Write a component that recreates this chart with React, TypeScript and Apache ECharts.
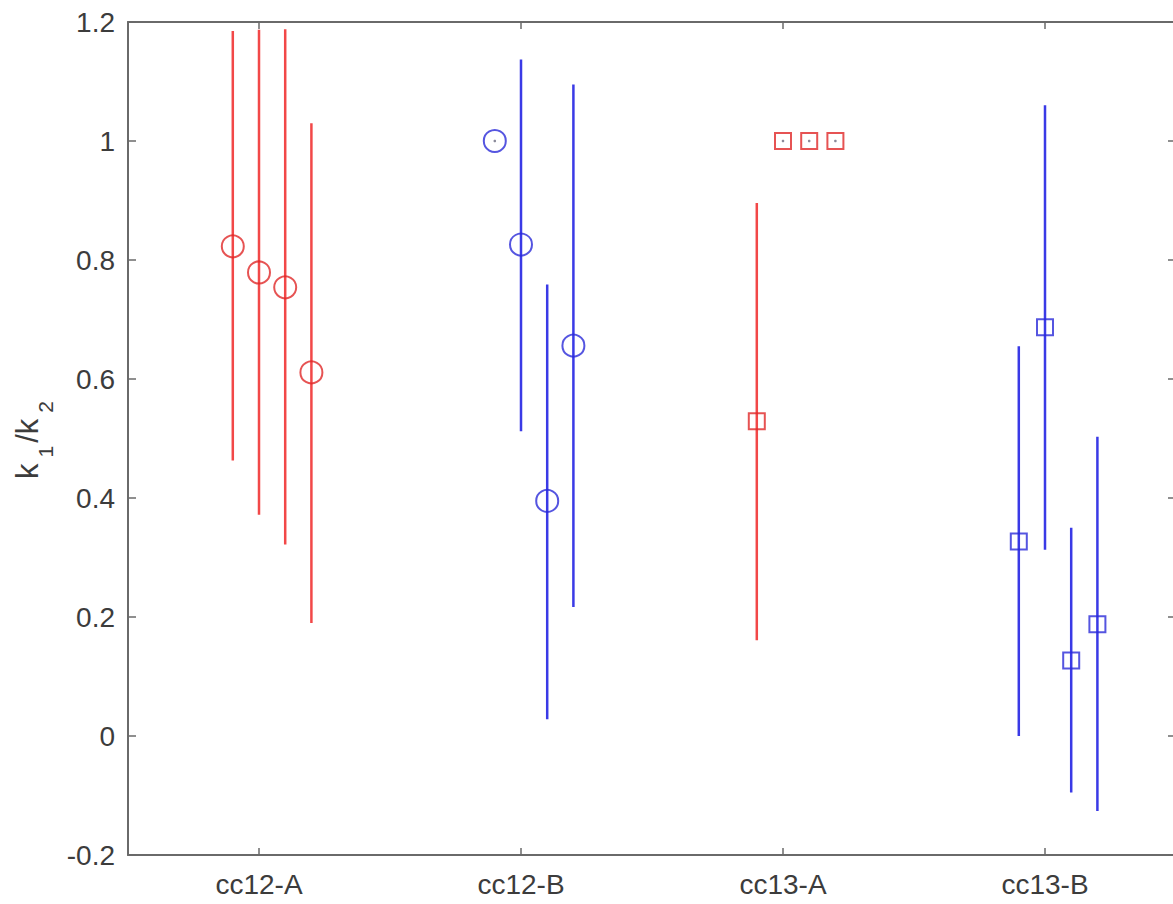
import React, { useEffect, useRef } from "react";
import * as echarts from "echarts";

const categories = ["cc12-A", "cc12-B", "cc13-A", "cc13-B"];
const categoryTicks = [1, 2, 3, 4];
const yTicks = [-0.2, 0, 0.2, 0.4, 0.6, 0.8, 1, 1.2];

// cc12-A (red circles)
const x12A = [0.9, 1.0, 1.1, 1.2];
const y12A = [0.823, 0.779, 0.754, 0.611];
const lo12A = [0.463, 0.372, 0.322, 0.19];
const hi12A = [1.185, 1.187, 1.188, 1.03];

// cc12-B (blue circles)
const x12B = [1.9, 2.0, 2.1, 2.2];
const y12B = [1.0, 0.826, 0.395, 0.656];
const lo12B = [1.0, 0.512, 0.028, 0.217];
const hi12B = [1.0, 1.137, 0.759, 1.095];

// cc13-A (red squares)
const x13A = [2.9, 3.0, 3.1, 3.2];
const y13A = [0.529, 1.0, 1.0, 1.0];
const lo13A = [0.161, 1.0, 1.0, 1.0];
const hi13A = [0.896, 1.0, 1.0, 1.0];

// cc13-B (blue squares)
const x13B = [3.9, 4.0, 4.1, 4.2];
const y13B = [0.327, 0.687, 0.127, 0.188];
const lo13B = [0.0, 0.313, -0.095, -0.126];
const hi13B = [0.655, 1.06, 0.35, 0.503];

const RED_LINE = "#f24848";
const RED_MARK = "#e02828";
const BLUE_LINE = "#3a3ae6";
const BLUE_MARK = "#2a2ad8";
const AXIS = "#6a6a6a";
const TEXT = "#3c3c3c";
const FONT = "Liberation Sans";

function errorSeries(xs: number[], lo: number[], hi: number[], color: string) {
  return {
    type: "custom",
    xAxisIndex: 0,
    yAxisIndex: 0,
    silent: true,
    data: xs.map((x, i) => [x, lo[i], hi[i]]),
    encode: { x: 0, y: [1, 2] },
    renderItem: (params: any, api: any) => {
      const x = api.value(0);
      const p1 = api.coord([x, api.value(1)]);
      const p2 = api.coord([x, api.value(2)]);
      if (Math.abs(p1[1] - p2[1]) < 0.5) {
        return {
          type: "circle",
          shape: { cx: p1[0], cy: p1[1], r: 1.3 },
          style: { fill: "#8a8a9a" },
        };
      }
      return {
        type: "line",
        shape: { x1: p1[0], y1: p1[1], x2: p2[0], y2: p2[1] },
        style: { stroke: color, lineWidth: 2.5 },
      };
    },
    z: 2,
  };
}

function markerSeries(xs: number[], ys: number[], symbol: string, size: number, color: string) {
  return {
    type: "scatter",
    xAxisIndex: 0,
    yAxisIndex: 0,
    silent: true,
    symbol,
    symbolSize: size,
    data: xs.map((x, i) => [x, ys[i]]),
    itemStyle: { color: "rgba(0,0,0,0)", borderColor: color, borderWidth: 2 },
    z: 3,
  };
}

export default function App() {
  const ref = useRef<HTMLDivElement>(null);
  useEffect(() => {
    if (!ref.current) return;
    const chart = echarts.init(ref.current, undefined, { renderer: "svg" });
    const labelStyle = { fontFamily: FONT, fontSize: 28, color: TEXT };
    const option: any = {
      animation: false,
      backgroundColor: "#ffffff",
      grid: {
        left: 128,
        top: 22,
        width: 1048,
        height: 833,
        containLabel: false,
        outerBoundsMode: "none",
      },
      xAxis: [
        {
          type: "value",
          position: "bottom",
          min: 0.5,
          max: 4.5,
          splitLine: { show: false },
          axisLine: { show: true, onZero: false, lineStyle: { color: AXIS, width: 2 } },
          axisTick: { show: true, inside: true, length: 7, customValues: categoryTicks, lineStyle: { color: AXIS, width: 1.5 } },
          axisLabel: {
            ...labelStyle,
            margin: 15,
            customValues: categoryTicks,
            formatter: (v: number) => categories[Math.round(v) - 1] ?? "",
          },
        },
        {
          type: "value",
          position: "top",
          min: 0.5,
          max: 4.5,
          splitLine: { show: false },
          axisLine: { show: true, onZero: false, lineStyle: { color: AXIS, width: 2 } },
          axisTick: { show: true, inside: true, length: 7, customValues: categoryTicks, lineStyle: { color: AXIS, width: 1.5 } },
          axisLabel: { show: false },
        },
      ],
      yAxis: [
        {
          type: "value",
          position: "left",
          min: -0.2,
          max: 1.2,
          interval: 0.2,
          splitLine: { show: false },
          axisLine: { show: true, onZero: false, lineStyle: { color: AXIS, width: 2 } },
          axisTick: { show: true, inside: true, length: 8, lineStyle: { color: AXIS, width: 1.5 } },
          axisLabel: {
            ...labelStyle,
            margin: 13,
            formatter: (v: number) => {
              const near = yTicks.reduce((a, b) => (Math.abs(b - v) < Math.abs(a - v) ? b : a));
              return String(near);
            },
          },
          name: "{k|k}{s|1}{k|/k}{s|2}",
          nameLocation: "middle",
          nameRotate: 90,
          nameGap: 68,
          nameTextStyle: {
            fontFamily: FONT,
            color: TEXT,
            rich: {
              k: { fontFamily: FONT, fontSize: 31, color: TEXT, lineHeight: 34, verticalAlign: "top" },
              s: {
                fontFamily: FONT,
                fontSize: 21,
                color: TEXT,
                lineHeight: 21,
                verticalAlign: "top",
                padding: [23, 3, 0, 6],
              },
            },
          },
        },
        {
          type: "value",
          position: "right",
          min: -0.2,
          max: 1.2,
          interval: 0.2,
          splitLine: { show: false },
          axisLine: { show: true, onZero: false, lineStyle: { color: AXIS, width: 2 } },
          axisTick: { show: true, inside: true, length: 8, lineStyle: { color: AXIS, width: 1.5 } },
          axisLabel: { show: false },
        },
      ],
      series: [
        errorSeries(x12A, lo12A, hi12A, RED_LINE),
        errorSeries(x12B, lo12B, hi12B, BLUE_LINE),
        errorSeries(x13A, lo13A, hi13A, RED_LINE),
        errorSeries(x13B, lo13B, hi13B, BLUE_LINE),
        markerSeries(x12A, y12A, "circle", 22, RED_MARK),
        markerSeries(x12B, y12B, "circle", 22, BLUE_MARK),
        markerSeries(x13A, y13A, "rect", 16, RED_MARK),
        markerSeries(x13B, y13B, "rect", 16, BLUE_MARK),
      ],
    };
    chart.setOption(option);
    return () => chart.dispose();
  }, []);
  return (
    <div
      ref={ref}
      style={{ position: "absolute", left: 0, top: 0, width: 1173, height: 904, background: "#fff" }}
    />
  );
}
